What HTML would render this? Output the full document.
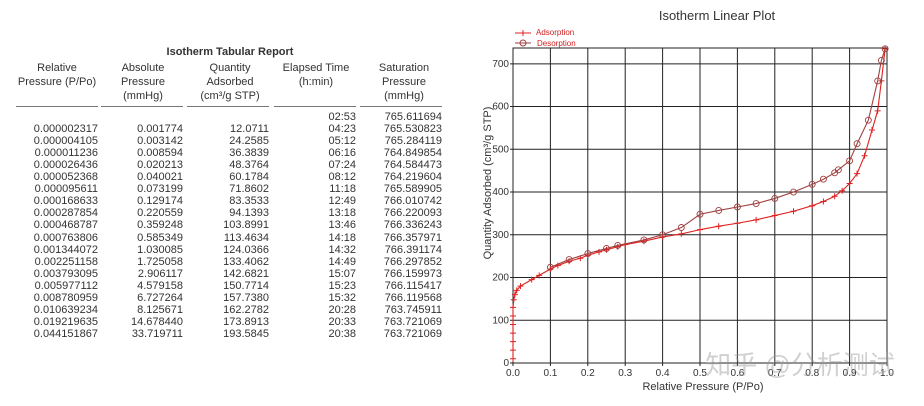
<!DOCTYPE html>
<html><head><meta charset="utf-8"><style>
html,body{margin:0;width:924px;height:406px;background:#fff;overflow:hidden;font-family:"Liberation Sans",Arial,sans-serif;color:#333}
.t{position:absolute;font-size:11px;white-space:nowrap;line-height:13px}
svg text{font-family:"Liberation Sans","Noto Sans CJK SC",sans-serif}
</style></head><body>
<div id="table" style="position:absolute;left:0;top:0;width:460px;height:406px;overflow:hidden"></div>
<svg id="chart" width="924" height="406" style="position:absolute;left:0;top:0"></svg>
<script>
const rp=["","0.000002317","0.000004105","0.000011236","0.000026436","0.000052368","0.000095611","0.000168633","0.000287854","0.000468787","0.000763806","0.001344072","0.002251158","0.003793095","0.005977112","0.008780959","0.010639234","0.019219635","0.044151867"];
const ap=["","0.001774","0.003142","0.008594","0.020213","0.040021","0.073199","0.129174","0.220559","0.359248","0.585349","1.030085","1.725058","2.906117","4.579158","6.727264","8.125671","14.678440","33.719711"];
const qa=["","12.0711","24.2585","36.3839","48.3764","60.1784","71.8602","83.3533","94.1393","103.8991","113.4634","124.0366","133.4062","142.6821","150.7714","157.7380","162.2782","173.8913","193.5845"];
const et=["02:53","04:23","05:12","06:16","07:24","08:12","11:18","12:49","13:18","13:46","14:18","14:32","14:49","15:07","15:23","15:32","20:28","20:33","20:38"];
const sp=["765.611694","765.530823","765.284119","764.849854","764.584473","764.219604","765.589905","766.010742","766.220093","766.336243","766.357971","766.391174","766.297852","766.159973","766.115417","766.119568","763.745911","763.721069","763.721069"];
const adsX=[0,0,0,0,0,0,0,0.002,0.005,0.01,0.02,0.05,0.07,0.1,0.12,0.15,0.18,0.2,0.23,0.25,0.28,0.3,0.35,0.4,0.45,0.5,0.55,0.6,0.65,0.7,0.75,0.8,0.83,0.86,0.88,0.9,0.92,0.94,0.96,0.975,0.985,0.995];
const adsY=[10,30,50,70,90,110,130,148,160,170,180,195,205,220,228,238,245,252,260,265,272,277,285,295,302,312,320,327,335,345,355,368,378,390,403,420,443,485,545,590,660,735];
const desX=[0.995,0.985,0.975,0.95,0.92,0.9,0.87,0.86,0.83,0.8,0.75,0.7,0.65,0.6,0.55,0.5,0.45,0.4,0.35,0.28,0.25,0.2,0.15,0.1];
const desY=[735,708,660,568,513,473,452,445,430,418,400,385,373,365,357,348,317,300,288,275,268,256,242,224];
const xTicks=["0.0","0.1","0.2","0.3","0.4","0.5","0.6","0.7","0.8","0.9","1.0"];
const yTicks=[0,100,200,300,400,500,600,700];

const tb=document.getElementById('table');
function txt(s,x,y,align,name,extra){const d=document.createElement('div');d.className='t';d.textContent=s;
 d.style.top=(y-7)+'px';if(align==='r'){d.style.right=(460-x)+'px';}else{d.style.left=(x-100)+'px';d.style.width='200px';d.style.textAlign='center';}
 if(extra)d.style.cssText+=extra;
 
 
 tb.appendChild(d);return d;}
txt("Isotherm Tabular Report",230,53,'c','table-title','font-weight:bold;');
const rights=[98,183,269,356,442];
const centers=[57,143,230,316,404];
const heads=[["Relative","Pressure (P/Po)"],["Absolute","Pressure","(mmHg)"],["Quantity","Adsorbed","(cm³/g STP)"],["Elapsed Time","(h:min)"],["Saturation","Pressure","(mmHg)"]];
heads.forEach((h,i)=>{h.forEach((l,j)=>txt(l,centers[i],69+j*14,'c','column-header'));
 const u=document.createElement('div');u.style.cssText=`position:absolute;left:${rights[i]-82}px;width:82px;top:106px;height:1px;background:#777`;
 
 
 tb.appendChild(u);});
for(let r=0;r<19;r++){const y=118+r*12.05;
 [rp,ap,qa,et,sp].forEach((col,i)=>{const v=col[r];if(v)txt(v,rights[i],y,'r','table-cell');});}

const svg=document.getElementById('chart'),NS="http://www.w3.org/2000/svg";
const L=513,R=887,T=48,B=363,YMAX=737;
const xs=v=>L+v*(R-L)/1.0, ys=v=>B-v*(B-T)/YMAX;
function el(t,a,name){const e=document.createElementNS(NS,t);for(const k in a)e.setAttribute(k,String(a[k]));
 
 
 svg.appendChild(e);return e;}
function mkText(s,a,name){const e=el('text',a,name);e.appendChild(document.createTextNode(s));return e;}
xTicks.forEach((t,i)=>{const v=i/10;el('line',{x1:xs(v),x2:xs(v),y1:T,y2:B+3,stroke:'#222','stroke-width':1},'x-gridline');
 mkText(t,{x:xs(v),y:376,'font-size':10,'text-anchor':'middle',fill:'#333'},'x-tick-label');});
yTicks.forEach(v=>{el('line',{x1:L-3,x2:R,y1:ys(v),y2:ys(v),stroke:'#222','stroke-width':1},'y-gridline');
 mkText(String(v),{x:L-4,y:ys(v)+3,'font-size':10,'text-anchor':'end',fill:'#333'},'y-tick-label');});
el('rect',{x:L,y:T,width:R-L,height:B-T,fill:'none',stroke:'#222'},'plot-frame');
mkText("Isotherm Linear Plot",{x:717,y:20,'font-size':13,'text-anchor':'middle',fill:'#333'},'chart-title');
mkText("Relative Pressure (P/Po)",{x:703,y:390,'font-size':11,'text-anchor':'middle',fill:'#333'},'x-axis-title');
mkText("Quantity Adsorbed (cm³/g STP)",{x:491,y:183,'font-size':11,'text-anchor':'middle',fill:'#333',transform:'rotate(-90 491 183)'},'y-axis-title');
function series(X,Y,color,marker,name){const p=X.map((x,i)=>xs(x)+','+ys(Y[i])).join(' ');
 el('polyline',{points:p,fill:'none',stroke:color,'stroke-width':1.1},name+'-line');
 X.forEach((x,i)=>{const cx=xs(x),cy=ys(Y[i]);
  if(marker==='plus'){el('path',{d:`M${cx-3},${cy}H${cx+3}M${cx},${cy-3}V${cy+3}`,stroke:color,'stroke-width':1},name+'-point');}
  else el('circle',{cx:cx,cy:cy,r:3,fill:'none',stroke:color,'stroke-width':0.9},name+'-point');});}
series(adsX,adsY,'#e02020','plus','adsorption');
series(desX,desY,'#a04040','circle','desorption');
el('path',{d:'M515,33H531M523,30V36',stroke:'#e02020'},'legend-adsorption-marker');
mkText("Adsorption",{x:536,y:35,'font-size':8,fill:'#d02020'},'legend-adsorption');
el('line',{x1:515,x2:531,y1:43,y2:43,stroke:'#a04040'},'legend-desorption-line');
el('circle',{cx:523,cy:43,r:3,fill:'none',stroke:'#a04040'},'legend-desorption-marker');
mkText("Desorption",{x:537,y:46,'font-size':8,fill:'#d02020'},'legend-desorption');
mkText("知乎 @分析测试",{x:800,y:374,'font-size':26,'text-anchor':'middle',fill:'rgba(150,150,150,0.45)'},'watermark');
</script>
</body></html>
